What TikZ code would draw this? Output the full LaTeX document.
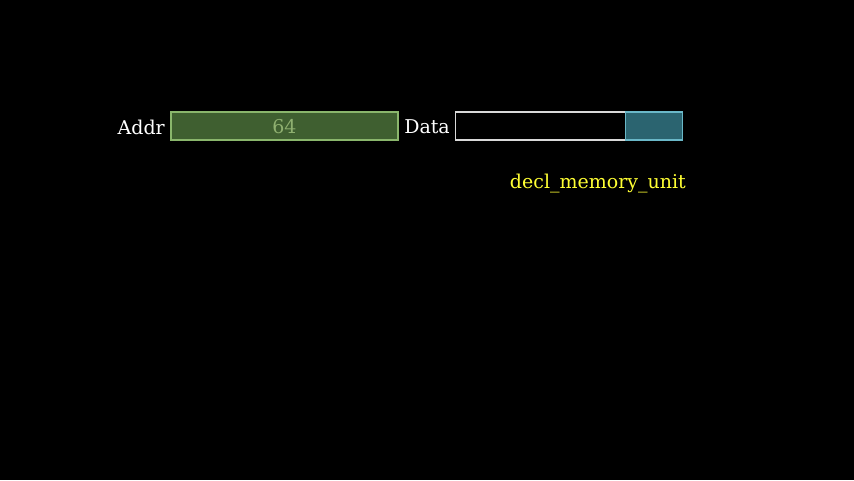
\documentclass[tikz,border=0pt]{standalone}
\usepackage{fontspec}
\setmainfont{DejaVu Serif}
\definecolor{gfill}{HTML}{3F5F30}
\definecolor{gline}{HTML}{8AB66C}
\definecolor{gtext}{HTML}{8FB070}
\definecolor{bfill}{HTML}{2B6470}
\definecolor{bline}{HTML}{6AB8C8}
\definecolor{lbl}{HTML}{FFFF33}
\begin{document}
\begin{tikzpicture}[x=1pt,y=-1pt,
  lab/.style={font=\fontsize{19}{19}\selectfont, text=white, inner sep=0pt},
  fld/.style={minimum width=227pt, minimum height=28pt, inner sep=0pt, line width=1.3pt}]
\fill[black] (0,0) rectangle (854,480);
\useasboundingbox (0,0) rectangle (854,480);
\node[fld, draw=gline, fill=gfill] (addr) at (284.5,126) {};
\node[text=gtext, font=\fontsize{19}{19}\selectfont, inner sep=0pt] (addrv) at (284.5,127) {64};
\node[lab, anchor=east] (addrl) at (165,127) {Addr};
\node[fld, draw=white!85!black, fill=black] (data) at (569,126) {};
\node[minimum width=57pt, minimum height=28pt, inner sep=0pt, line width=1.3pt, draw=bline, fill=bfill, anchor=east] (datab) at (data.east) {};
\node[lab, anchor=east] (datal) at (450,127) {Data};
\node[lab, text=lbl, anchor=east] (unit) at (686,183.5) {decl\_memory\_unit};
\end{tikzpicture}
\end{document}
